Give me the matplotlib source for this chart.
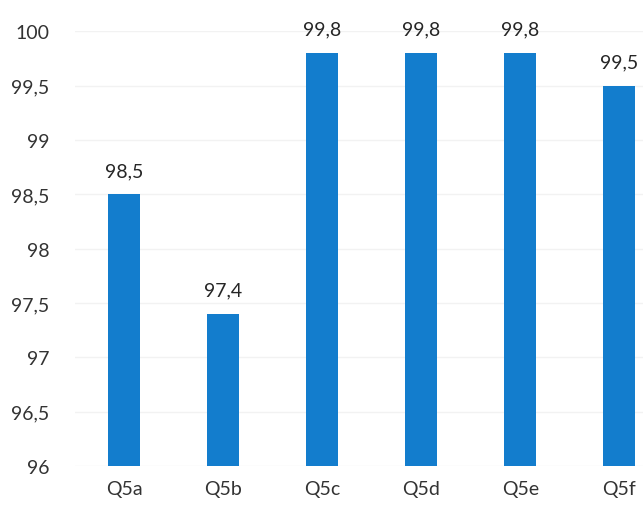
import matplotlib.pyplot as plt
from matplotlib.ticker import FuncFormatter

categories = ['Q5a', 'Q5b', 'Q5c', 'Q5d', 'Q5e', 'Q5f']
values = [98.5, 97.4, 99.8, 99.8, 99.8, 99.5]
yticks = [96, 96.5, 97, 97.5, 98, 98.5, 99, 99.5, 100]

plt.rcParams['font.family'] = ['Lato', 'DejaVu Sans']

fig = plt.figure(figsize=(6.43, 5.1), dpi=100)
ax = fig.add_axes([0.116, 0.084, 0.884, 0.853])

x = list(range(len(categories)))
bars = ax.bar(x, [v - 96 for v in values], bottom=96, width=0.32, color='#137dcd', zorder=3)

# value labels with decimal comma
for xi, v in zip(x, values):
    ax.text(xi, v + 0.14, f'{v:.1f}'.replace('.', ','), ha='center', va='bottom',
            fontsize=14, color='#262626', clip_on=False)

ax.set_ylim(96, 100)
ax.set_xlim(-0.5, 5.24)
ax.set_yticks(yticks)
ax.yaxis.set_major_formatter(FuncFormatter(lambda v, p: f'{v:g}'.replace('.', ',')))
ax.set_xticks(x)
ax.set_xticklabels(categories)
ax.tick_params(axis='y', length=0, pad=18, labelsize=14, labelcolor='#333333')
ax.tick_params(axis='x', length=0, pad=10, labelsize=14, labelcolor='#333333')

ax.grid(axis='y', color='#f2f2f2', linewidth=1, zorder=0)
for s in ax.spines.values():
    s.set_visible(False)

fig.savefig('out.png', dpi=100)
